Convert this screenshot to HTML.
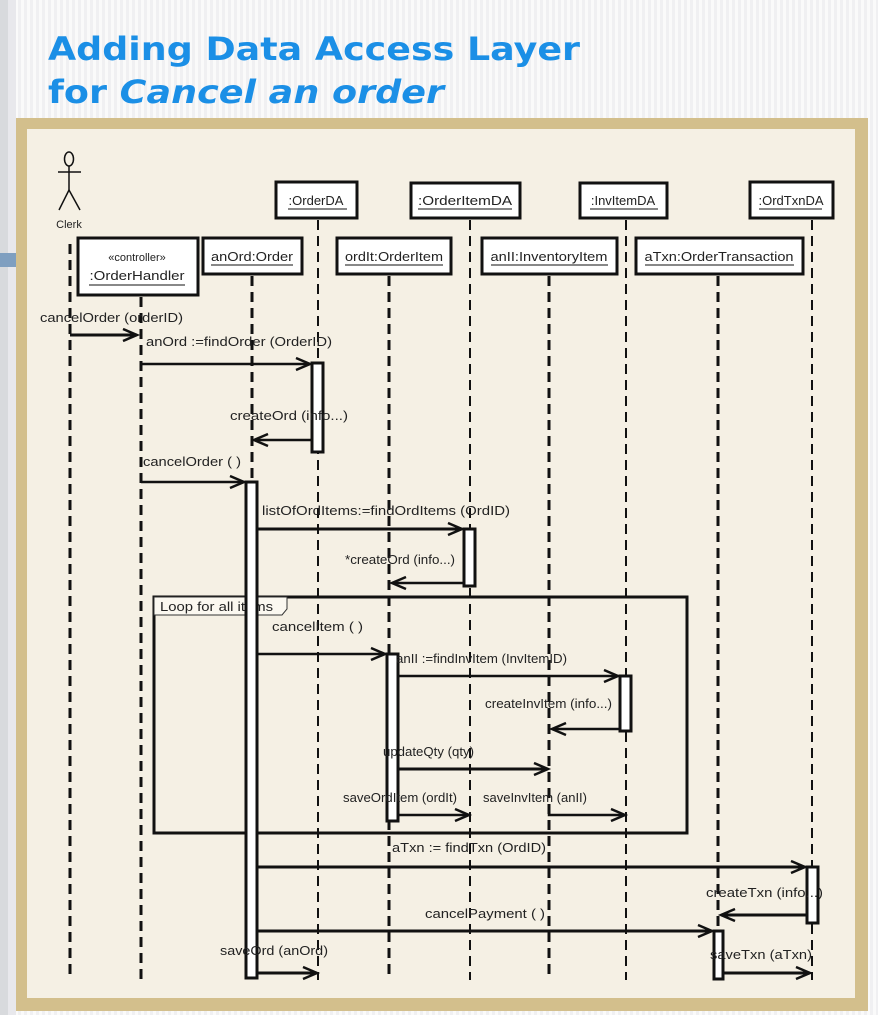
<!DOCTYPE html>
<html><head><meta charset="utf-8"><style>
html,body{margin:0;padding:0;width:878px;height:1015px;overflow:hidden;background:#fff}
svg{display:block}
text{font-family:"Liberation Sans",sans-serif;fill:#222}
.l{font-size:13px}
</style></head><body>
<svg width="878" height="1015" viewBox="0 0 878 1015" xmlns="http://www.w3.org/2000/svg">
<defs>
<pattern id="st" width="6" height="10" patternUnits="userSpaceOnUse"><rect width="6" height="10" fill="#fafafa"/><rect width="3" height="10" fill="#f0f0f2"/></pattern>
</defs>
<rect width="878" height="1015" fill="url(#st)"/>
<rect x="0" y="0" width="8" height="1015" fill="#d8dadd"/>
<rect x="8" y="0" width="8" height="1015" fill="#e8e8ec"/>
<rect x="0" y="253" width="16" height="14" fill="#7f9fc0"/>
<text x="48" y="60" font-size="32" font-weight="bold" style="fill:#1b8fe6;font-family:'DejaVu Sans',sans-serif" textLength="532" lengthAdjust="spacingAndGlyphs">Adding Data Access Layer</text>
<text x="48" y="103" font-size="32" font-weight="bold" style="fill:#1b8fe6;font-family:'DejaVu Sans',sans-serif" textLength="396" lengthAdjust="spacingAndGlyphs">for <tspan font-style="italic">Cancel an order</tspan></text>
<rect x="16" y="118" width="852" height="893" fill="#d3bf8c"/>
<rect x="27" y="129" width="828" height="869" fill="#f5f0e4"/>

<g stroke="#111" fill="none">
<ellipse cx="69" cy="159" rx="4.5" ry="7" stroke-width="1.5"/>
<line x1="69" y1="166" x2="69" y2="190" stroke-width="1.5"/>
<line x1="58" y1="172" x2="81" y2="172" stroke-width="1.5"/>
<line x1="69" y1="190" x2="59" y2="210" stroke-width="1.5"/>
<line x1="69" y1="190" x2="80" y2="210" stroke-width="1.5"/>
<g stroke-width="3" stroke-dasharray="10,6">
<line x1="70" y1="244" x2="70" y2="980"/>
<line x1="141" y1="297" x2="141" y2="980"/>
<line x1="252" y1="276" x2="252" y2="980"/>
<line x1="318" y1="220" x2="318" y2="980" stroke-width="2"/>
<line x1="389" y1="276" x2="389" y2="980"/>
<line x1="470" y1="220" x2="470" y2="980" stroke-width="2"/>
<line x1="549" y1="276" x2="549" y2="980"/>
<line x1="626" y1="220" x2="626" y2="980" stroke-width="2"/>
<line x1="718" y1="276" x2="718" y2="980"/>
<line x1="812" y1="220" x2="812" y2="980" stroke-width="2"/>
</g>
</g>
<g stroke="#111" stroke-width="3" fill="#fff">
<rect x="276" y="182" width="81" height="36"/>
<rect x="411" y="183" width="109" height="35"/>
<rect x="580" y="183" width="87" height="35"/>
<rect x="750" y="182" width="83" height="36"/>
<rect x="78" y="238" width="120" height="57"/>
<rect x="203" y="238" width="99" height="36"/>
<rect x="337" y="238" width="114" height="36"/>
<rect x="482" y="238" width="135" height="36"/>
<rect x="636" y="238" width="167" height="36"/>
</g>
<g class="l" text-anchor="middle">
<text x="316" y="205">:OrderDA</text>
<text x="465" y="205" textLength="94" lengthAdjust="spacingAndGlyphs">:OrderItemDA</text>
<text x="623" y="205">:InvItemDA</text>
<text x="791" y="205">:OrdTxnDA</text>
<text x="137" y="261" font-size="11">«controller»</text>
<text x="137" y="280" textLength="95" lengthAdjust="spacingAndGlyphs">:OrderHandler</text>
<text x="252" y="261" textLength="82" lengthAdjust="spacingAndGlyphs">anOrd:Order</text>
<text x="394" y="261" textLength="98" lengthAdjust="spacingAndGlyphs">ordIt:OrderItem</text>
<text x="549" y="261" textLength="117" lengthAdjust="spacingAndGlyphs">anII:InventoryItem</text>
<text x="719" y="261" textLength="149" lengthAdjust="spacingAndGlyphs">aTxn:OrderTransaction</text>
<text x="69" y="228" font-size="11">Clerk</text>
</g>
<g stroke="#111" stroke-width="1">
<line x1="288" y1="209" x2="347" y2="209"/>
<line x1="418" y1="209" x2="512" y2="209"/>
<line x1="590" y1="209" x2="658" y2="209"/>
<line x1="759" y1="209" x2="822" y2="209"/>
<line x1="89" y1="285" x2="185" y2="285"/>
<line x1="211" y1="265" x2="293" y2="265"/>
<line x1="345" y1="265" x2="443" y2="265"/>
<line x1="491" y1="265" x2="608" y2="265"/>
<line x1="645" y1="265" x2="794" y2="265"/>
</g>

<rect x="154" y="597" width="533" height="236" fill="none" stroke="#111" stroke-width="3"/>
<path d="M154 597 H287 V609 L282 615 H154 Z" fill="#fbf8f0" stroke="#333" stroke-width="1"/>
<text x="160" y="611" class="l" textLength="113" lengthAdjust="spacingAndGlyphs">Loop for all items</text>

<g stroke="#111" stroke-width="3" fill="#fff">
<rect x="312" y="363" width="11" height="89"/>
<rect x="246" y="482" width="11" height="496"/>
<rect x="464" y="529" width="11" height="57"/>
<rect x="387" y="654" width="11" height="167"/>
<rect x="620" y="676" width="11" height="55"/>
<rect x="807" y="867" width="11" height="56"/>
<rect x="714" y="931" width="9" height="48"/>
</g>

<g stroke="#111" stroke-width="2.5" fill="none">
<line x1="70" y1="335" x2="137" y2="335" stroke-width="3"/><polyline points="123,329 137,335 123,341"/>
<line x1="141" y1="364" x2="310" y2="364"/><polyline points="296,358 310,364 296,370"/>
<line x1="312" y1="440" x2="254" y2="440"/><polyline points="268,434 254,440 268,446"/>
<line x1="141" y1="482" x2="244" y2="482"/><polyline points="230,476 244,482 230,488"/>
<line x1="257" y1="529" x2="462" y2="529" stroke-width="3"/><polyline points="448,523 462,529 448,535"/>
<line x1="463" y1="583" x2="392" y2="583"/><polyline points="406,577 392,583 406,589"/>
<line x1="257" y1="654" x2="385" y2="654"/><polyline points="371,648 385,654 371,660"/>
<line x1="398" y1="676" x2="618" y2="676"/><polyline points="604,670 618,676 604,682"/>
<line x1="620" y1="729" x2="552" y2="729"/><polyline points="566,723 552,729 566,735"/>
<line x1="398" y1="769" x2="548" y2="769" stroke-width="3"/><polyline points="534,763 548,769 534,775"/>
<line x1="398" y1="815" x2="469" y2="815"/><polyline points="455,809 469,815 455,821"/>
<polyline points="549,811 549,815 625,815"/><polyline points="611,809 625,815 611,821"/>
<line x1="257" y1="867" x2="805" y2="867" stroke-width="3"/><polyline points="791,861 805,867 791,873"/>
<line x1="807" y1="915" x2="721" y2="915" stroke-width="3"/><polyline points="735,909 721,915 735,921"/>
<line x1="257" y1="931" x2="712" y2="931" stroke-width="3"/><polyline points="698,925 712,931 698,937"/>
<line x1="257" y1="973" x2="317" y2="973" stroke-width="3"/><polyline points="303,967 317,973 303,979"/>
<line x1="723" y1="973" x2="810" y2="973" stroke-width="3"/><polyline points="796,967 810,973 796,979"/>
</g>

<g class="l">
<text x="40" y="322" textLength="143" lengthAdjust="spacingAndGlyphs">cancelOrder (orderID)</text>
<text x="146" y="346" textLength="186" lengthAdjust="spacingAndGlyphs">anOrd :=findOrder (OrderID)</text>
<text x="230" y="420" textLength="118" lengthAdjust="spacingAndGlyphs">createOrd (info...)</text>
<text x="143" y="466" textLength="98" lengthAdjust="spacingAndGlyphs">cancelOrder ( )</text>
<text x="262" y="515" textLength="248" lengthAdjust="spacingAndGlyphs">listOfOrdItems:=findOrdItems (OrdID)</text>
<text x="345" y="564" textLength="110" lengthAdjust="spacingAndGlyphs">*createOrd (info...)</text>
<text x="272" y="631" textLength="91" lengthAdjust="spacingAndGlyphs">cancelItem ( )</text>
<text x="396" y="663" textLength="171" lengthAdjust="spacingAndGlyphs">anII :=findInvItem (InvItemID)</text>
<text x="485" y="708" textLength="127" lengthAdjust="spacingAndGlyphs">createInvItem (info...)</text>
<text x="383" y="756" textLength="91" lengthAdjust="spacingAndGlyphs">updateQty (qty)</text>
<text x="343" y="802" textLength="114" lengthAdjust="spacingAndGlyphs">saveOrdItem (ordIt)</text>
<text x="483" y="802" textLength="104" lengthAdjust="spacingAndGlyphs">saveInvItem (anII)</text>
<text x="392" y="852" textLength="154" lengthAdjust="spacingAndGlyphs">aTxn := findTxn (OrdID)</text>
<text x="706" y="897" textLength="117" lengthAdjust="spacingAndGlyphs">createTxn (info...)</text>
<text x="425" y="918" textLength="120" lengthAdjust="spacingAndGlyphs">cancelPayment ( )</text>
<text x="220" y="955" textLength="108" lengthAdjust="spacingAndGlyphs">saveOrd (anOrd)</text>
<text x="710" y="959" textLength="102" lengthAdjust="spacingAndGlyphs">saveTxn (aTxn)</text>
</g>
</svg>
</body></html>
